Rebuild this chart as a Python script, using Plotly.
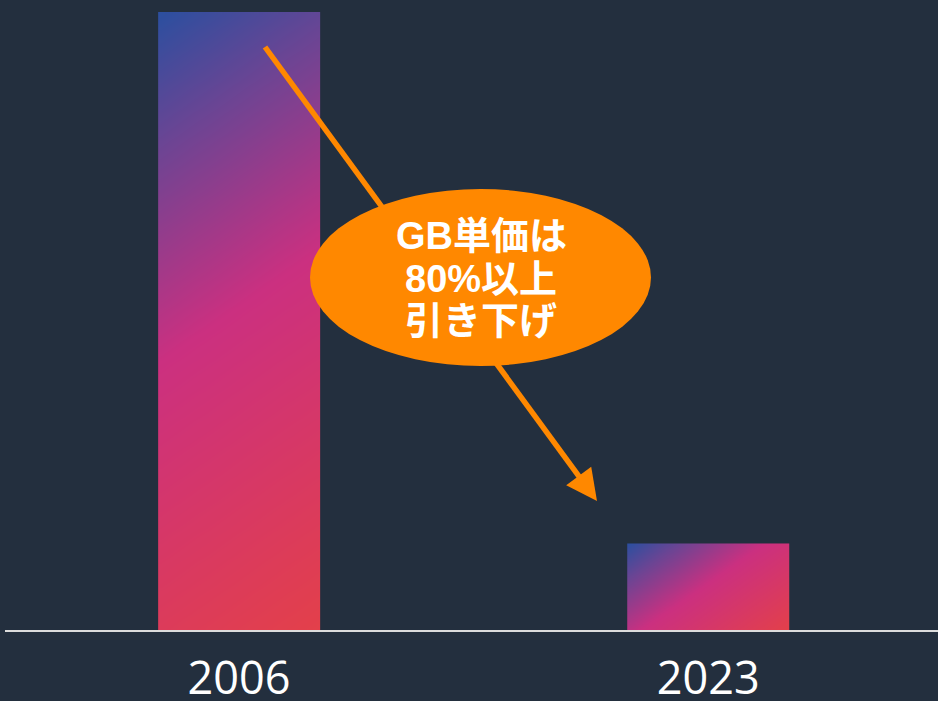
import numpy as np
import plotly.graph_objects as go

# ---- data ----
years = ["2006", "2023"]
price_per_gb = [0.15, 0.021]          # USD per GB (relative bar heights)
callout_lines = ["GB単価は", "80%以上", "引き下げ"]

# ---- layout constants ----
W, H = 938, 701
ML, MR, MT, MB = 5, 0, 12, 71
PW, PH = W - ML - MR, H - MT - MB
X_RANGE = [-0.499, 1.490]
Y_RANGE = [0, 0.15]
BAR_W = 0.345
BG = "#232f3e"
ORANGE = "#ff8800"
GRAD = [[0.0, "#2b4f9f"], [0.18, "#6a4594"], [0.48, "#cb3080"], [1.0, "#e3404a"]]

px_per_x = PW / (X_RANGE[1] - X_RANGE[0])
px_per_y = PH / (Y_RANGE[1] - Y_RANGE[0])

fig = go.Figure()

# gradient bars drawn as heatmaps through the data axes
A, B = 0.7, 1.0  # gradient direction in pixel space
for i, (yr, v) in enumerate(zip(years, price_per_gb)):
    xs = np.linspace(i - BAR_W / 2, i + BAR_W / 2, 41)
    ys = np.linspace(0, v, 161)
    xc = (xs[:-1] + xs[1:]) / 2
    yc = (ys[:-1] + ys[1:]) / 2
    wpx = BAR_W * px_per_x
    hpx = v * px_per_y
    dx = (xc - xs[0]) * px_per_x
    dy = (v - yc) * px_per_y
    z = (A * dx[None, :] + B * dy[:, None]) / (A * wpx + B * hpx)
    fig.add_trace(go.Heatmap(
        x=xs, y=ys, z=z, zmin=0, zmax=1, colorscale=GRAD,
        showscale=False, zsmooth="best", hoverinfo="skip", name=yr,
    ))


def P(px, py):
    return (px - ML) / PW, (MT + PH - py) / PH


# arrow (line + head), then callout ellipse over it
tail = np.array([265.0, 47.0])
tip = np.array([597.0, 501.0])
u = (tip - tail) / np.linalg.norm(tip - tail)
n = np.array([-u[1], u[0]])
head_len, head_half = 31.0, 15.5
base = tip - u * head_len
c1, c2 = base + n * head_half, base - n * head_half
x0, y0 = P(*tail)
x1, y1 = P(*(base + u * 2))
fig.add_shape(type="line", xref="paper", yref="paper", x0=x0, y0=y0, x1=x1, y1=y1,
              line=dict(color=ORANGE, width=5.5), layer="above")
pts = [P(*tip), P(*c1), P(*c2)]
path = "M{},{} L{},{} L{},{} Z".format(pts[0][0], pts[0][1], pts[1][0], pts[1][1], pts[2][0], pts[2][1])
fig.add_shape(type="path", xref="paper", yref="paper", path=path,
              fillcolor=ORANGE, line=dict(width=0), layer="above")

ex0, ey0 = P(310, 366)
ex1, ey1 = P(651, 189)
fig.add_shape(type="circle", xref="paper", yref="paper", x0=ex0, y0=ey0, x1=ex1, y1=ey1,
              fillcolor=ORANGE, line=dict(width=0), layer="above")

for line_text, py in zip(callout_lines, [236, 279, 321]):
    ax, ay = P(481, py)
    fig.add_annotation(x=ax, y=ay, xref="paper", yref="paper", text="<b>" + line_text + "</b>",
                       showarrow=False, xanchor="center", yanchor="middle",
                       font=dict(family="Liberation Sans, Noto Sans CJK JP", size=38, color="white"))

fig.update_layout(
    width=W, height=H,
    margin=dict(l=ML, r=MR, t=MT, b=MB, pad=0),
    paper_bgcolor=BG, plot_bgcolor=BG,
    showlegend=False,
    template="none",
    xaxis=dict(range=X_RANGE, tickvals=[0, 1], ticktext=years, showgrid=False, zeroline=False,
               showline=True, linecolor="#dcdcdc", linewidth=1.6, ticks="", automargin=False,
               ticklabelstandoff=8,
               tickfont=dict(family="Open Sans", size=45, color="white")),
    yaxis=dict(range=Y_RANGE, visible=False, showgrid=False, zeroline=False, automargin=False),
)

fig.write_html("out.html", config={"displayModeBar": False},
               post_script="document.body.style.margin='0';document.body.style.overflow='hidden';")
